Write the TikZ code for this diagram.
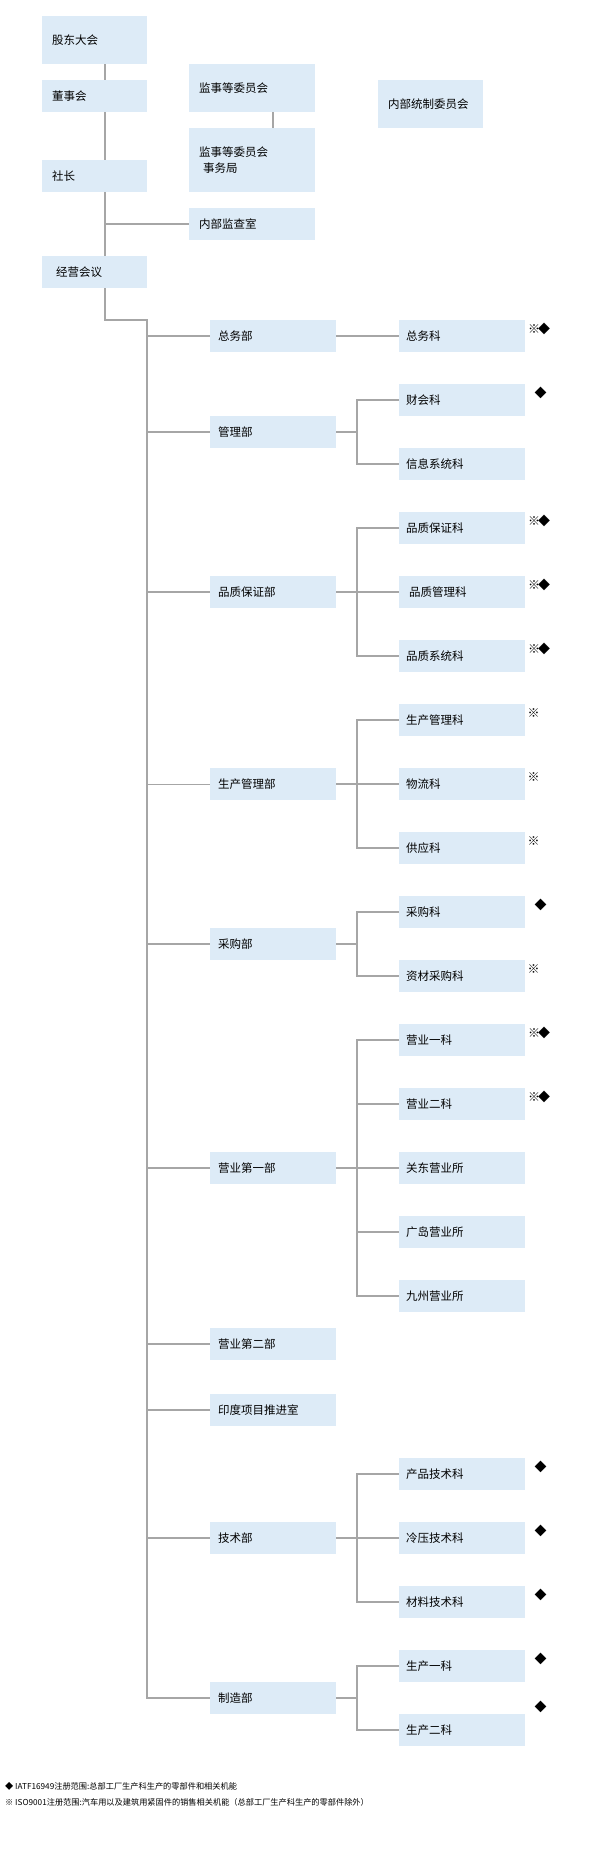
\documentclass[tikz,border=0pt]{standalone}
\usepackage{fontspec}
\newfontfamily\cjk{Noto Sans CJK SC}
\definecolor{boxblue}{RGB}{221,235,247}
\definecolor{linegray}{RGB}{166,166,166}
\newcommand\kmd{※\kern-2pt◆}
\tikzset{
  basebox/.style={fill=boxblue, anchor=north west, inner ysep=0pt, align=left,
    font=\cjk\fontsize{11.5pt}{15.3pt}\selectfont, text=black},
  topbox/.style={basebox, text width=85pt, inner xsep=10pt},
  midbox/.style={basebox, text width=106pt, inner xsep=10pt},
  deptbox/.style={basebox, text width=110pt, inner xsep=8pt, minimum height=32pt},
  subbox/.style={basebox, text width=112pt, inner xsep=7pt, minimum height=32pt},
  conn/.style={draw=linegray, line width=2pt},
  thinconn/.style={draw=linegray, line width=1pt},
  certmark/.style={font=\cjk\fontsize{12pt}{13pt}\selectfont, inner sep=0pt, anchor=center},
  notetext/.style={font=\cjk\fontsize{8.2pt}{10pt}\selectfont, inner sep=0pt, anchor=west}
}
\begin{document}
\begin{tikzpicture}[x=1pt,y=-1pt]
\useasboundingbox (0,0) rectangle (590,1856);
% top level
\node[topbox, minimum height=48pt] (gd) at (42,16) {股东大会};
\node[topbox, minimum height=32pt] (bod) at (42,80) {董事会};
\node[topbox, minimum height=32pt] (pres) at (42,160) {社长};
\node[topbox, minimum height=32pt] (mgmt) at (42,256) {\hspace{4pt}经营会议};
\node[midbox, minimum height=48pt] (ac) at (189,64) {监事等委员会};
\node[midbox, minimum height=64pt] (acs) at (189,128) {监事等委员会\\\hspace{4pt}事务局};
\node[midbox, minimum height=32pt] (ia) at (189,208) {内部监查室};
\node[topbox, minimum height=48pt] (ic) at (378,80) {内部统制委员会};
% departments
\node[deptbox] (d1) at (210,320) {总务部};
\node[deptbox] (d2) at (210,416) {管理部};
\node[deptbox] (d3) at (210,576) {品质保证部};
\node[deptbox] (d4) at (210,768) {生产管理部};
\node[deptbox] (d5) at (210,928) {采购部};
\node[deptbox] (d6) at (210,1152) {营业第一部};
\node[deptbox] (d7) at (210,1328) {营业第二部};
\node[deptbox] (d8) at (210,1394) {印度项目推进室};
\node[deptbox] (d9) at (210,1522) {技术部};
\node[deptbox] (d10) at (210,1682) {制造部};
% sections
\node[subbox] (c11) at (399,320) {总务科};
\node[subbox] (c21) at (399,384) {财会科};
\node[subbox] (c22) at (399,448) {信息系统科};
\node[subbox] (c31) at (399,512) {品质保证科};
\node[subbox] (c32) at (399,576) {\hspace{3pt}品质管理科};
\node[subbox] (c33) at (399,640) {品质系统科};
\node[subbox] (c41) at (399,704) {生产管理科};
\node[subbox] (c42) at (399,768) {物流科};
\node[subbox] (c43) at (399,832) {供应科};
\node[subbox] (c51) at (399,896) {采购科};
\node[subbox] (c52) at (399,960) {资材采购科};
\node[subbox] (c61) at (399,1024) {营业一科};
\node[subbox] (c62) at (399,1088) {营业二科};
\node[subbox] (c63) at (399,1152) {关东营业所};
\node[subbox] (c64) at (399,1216) {广岛营业所};
\node[subbox] (c65) at (399,1280) {九州营业所};
\node[subbox] (c91) at (399,1458) {产品技术科};
\node[subbox] (c92) at (399,1522) {冷压技术科};
\node[subbox] (c93) at (399,1586) {材料技术科};
\node[subbox] (c101) at (399,1650) {生产一科};
\node[subbox] (c102) at (399,1714) {生产二科};
% markers
\node[certmark] (m11) at (539,329) {\kmd};
\node[certmark] (m21) at (540.5,393) {◆};
\node[certmark] (m31) at (539,521) {\kmd};
\node[certmark] (m32) at (539,585) {\kmd};
\node[certmark] (m33) at (539,649) {\kmd};
\node[certmark] (m41) at (533.5,713) {※};
\node[certmark] (m42) at (533.5,777) {※};
\node[certmark] (m43) at (533.5,841) {※};
\node[certmark] (m51) at (540.5,905) {◆};
\node[certmark] (m52) at (533.5,969) {※};
\node[certmark] (m61) at (539,1033) {\kmd};
\node[certmark] (m62) at (539,1097) {\kmd};
\node[certmark] (m91) at (540.5,1467) {◆};
\node[certmark] (m92) at (540.5,1531) {◆};
\node[certmark] (m93) at (540.5,1595) {◆};
\node[certmark] (m101) at (540.5,1659) {◆};
\node[certmark] (m102) at (540.5,1707) {◆};
% footnotes
\node[notetext] (n1) at (5,1786) {◆ IATF16949注册范围:总部工厂生产科生产的零部件和相关机能};
\node[notetext] (n2) at (5,1802) {※ ISO9001注册范围:汽车用以及建筑用紧固件的销售相关机能（总部工厂生产科生产的零部件除外）};
% spine coordinates
\coordinate (s1) at (105,0);
\coordinate (s2) at (147,0);
\coordinate (s3) at (357,0);
\coordinate (s4) at (273,0);
\coordinate (turn) at (105,320);
% top connectors
\draw[conn] (gd.south -| s1) -- (bod.north -| s1);
\draw[conn] (bod.south -| s1) -- (pres.north -| s1);
\draw[conn] (pres.south -| s1) -- (mgmt.north -| s1);
\draw[conn] (ia.west -| s1) -- (ia.west);
\draw[conn] (ac.south -| s4) -- (acs.north -| s4);
\draw[conn, line join=miter] (mgmt.south -| s1) -- (turn) -| (d10.west -| s2) -- (d10.west);
% department branches
\foreach \d in {d1,d2,d3,d5,d6,d7,d8,d9}
  \draw[conn] (\d.west -| s2) -- (\d.west);
\draw[thinconn] (d4.west -| s2) -- (d4.west);
% section branches
\draw[conn] (d1.east) -- (c11.west);
\draw[conn, line join=miter] (c21.west) -- (c21.west -| s3) -- (c22.west -| s3) -- (c22.west);
\draw[conn] (d2.east) -- (d2.east -| s3);
\draw[conn, line join=miter] (c31.west) -- (c31.west -| s3) -- (c33.west -| s3) -- (c33.west);
\draw[conn] (d3.east) -- (c32.west);
\draw[conn, line join=miter] (c41.west) -- (c41.west -| s3) -- (c43.west -| s3) -- (c43.west);
\draw[conn] (d4.east) -- (c42.west);
\draw[conn, line join=miter] (c51.west) -- (c51.west -| s3) -- (c52.west -| s3) -- (c52.west);
\draw[conn] (d5.east) -- (d5.east -| s3);
\draw[conn, line join=miter] (c61.west) -- (c61.west -| s3) -- (c65.west -| s3) -- (c65.west);
\draw[conn] (d6.east) -- (c63.west);
\draw[conn] (c62.west -| s3) -- (c62.west);
\draw[conn] (c64.west -| s3) -- (c64.west);
\draw[conn, line join=miter] (c91.west) -- (c91.west -| s3) -- (c93.west -| s3) -- (c93.west);
\draw[conn] (d9.east) -- (c92.west);
\draw[conn, line join=miter] (c101.west) -- (c101.west -| s3) -- (c102.west -| s3) -- (c102.west);
\draw[conn] (d10.east) -- (d10.east -| s3);
\end{tikzpicture}
\end{document}
